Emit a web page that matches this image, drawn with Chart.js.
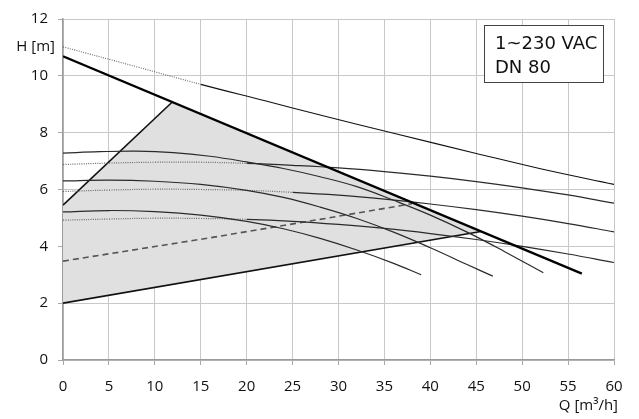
<!DOCTYPE html>
<html><head><meta charset="utf-8">
<script src="https://cdn.jsdelivr.net/npm/chart.js@4/dist/chart.umd.min.js"></script>
<style>html,body{margin:0;padding:0;background:#fff}#wrap{width:639px;height:419px;position:relative}</style>
</head><body><div id="wrap"><canvas id="c" width="639" height="419"></canvas></div>
<script>
// ---- data (Q in m³/h, H in m) ----
const xTicks = [0, 5, 10, 15, 20, 25, 30, 35, 40, 45, 50, 55, 60];
const yTicks = [0, 2, 4, 6, 8, 10, 12];

const topQ = [0, 8, 15, 22, 28, 36, 45, 52, 60];
const topH = [11.02, 10.32, 9.7, 9.12, 8.62, 7.98, 7.27, 6.73, 6.18];

const maxQ = [0, 56.5];
const maxH = [10.69, 3.04];

const curveAQ = [0, 4, 8, 12, 16, 20, 24, 28, 32, 36, 40, 44, 48, 52.3];
const curveAH = [7.28, 7.33, 7.35, 7.3, 7.17, 6.97, 6.74, 6.45, 6.1, 5.62, 5.1, 4.5, 3.83, 3.07];

const curveCQ = [0, 5, 10, 15, 20, 24, 28, 32, 36, 40, 44, 46.8];
const curveCH = [6.30, 6.33, 6.29, 6.18, 5.97, 5.72, 5.38, 4.98, 4.5, 3.95, 3.36, 2.95];

const curveFQ = [0, 5, 10, 15, 20, 24, 28, 32, 36, 39];
const curveFH = [5.21, 5.26, 5.22, 5.1, 4.88, 4.62, 4.28, 3.87, 3.4, 3.0];

const flatQ = [0, 5, 10, 15, 20, 25, 30, 35, 40, 45, 50, 55, 60];
const curveBH = [6.88, 6.93, 6.96, 6.96, 6.92, 6.85, 6.76, 6.63, 6.47, 6.28, 6.06, 5.81, 5.52];
const curveEH = [5.93, 5.98, 6.01, 6.0, 5.97, 5.9, 5.8, 5.66, 5.49, 5.29, 5.06, 4.8, 4.51];
const curveDH = [4.92, 4.96, 4.99, 4.98, 4.95, 4.88, 4.77, 4.63, 4.45, 4.24, 4.0, 3.73, 3.43];

const dashQ = [0, 16, 28, 38];
const dashH = [3.48, 4.3, 4.95, 5.5];

const leftQ = [0, 11.9];
const leftH = [5.45, 9.08];

const lowQ = [0, 45.5];
const lowH = [2.0, 4.52];

const areaQ = [0, 45.5, 11.9, 0];
const areaH = [2.0, 4.52, 9.08, 5.45];

const boxLines = ['1~230 VAC', 'DN 80'];
const yTitle = 'H [m]';
const xTitle = 'Q [m³/h]';

// ---- build ----
const pts = (q, h) => q.map((v, i) => ({x: v, y: h[i]}));
const FONT = '"Open Sans", "DejaVu Sans", sans-serif';

function curve(q, h, opts) {
  const ds = Object.assign({
    data: pts(q, h), borderColor: '#2a2a2a', borderWidth: 1.2, pointRadius: 0,
    fill: false, tension: 0.4, order: 1
  }, opts || {});
  if (ds.dotUntil !== undefined) {
    const t = ds.dotUntil;
    ds.segment = {
      borderDash: ctx => ctx.p1.parsed.x <= t ? [1, 1.3] : undefined,
      borderColor: ctx => ctx.p1.parsed.x <= t ? '#666' : undefined
    };
  }
  return ds;
}

const datasets = [
  {data: pts(areaQ, areaH), borderWidth: 0, borderColor: 'rgba(0,0,0,0)', backgroundColor: '#e0e0e0',
   fill: 'shape', pointRadius: 0, tension: 0, order: 20},
  curve(topQ, topH, {dotUntil: 15, borderColor: '#111', borderWidth: 1.1}),
  curve(curveAQ, curveAH),
  curve(flatQ, curveBH, {dotUntil: 20}),
  curve(curveCQ, curveCH),
  curve(flatQ, curveEH, {dotUntil: 25}),
  curve(curveFQ, curveFH),
  curve(flatQ, curveDH, {dotUntil: 20}),
  curve(dashQ, dashH, {borderDash: [6, 4], borderColor: '#555', borderWidth: 1.6, tension: 0}),
  curve(leftQ, leftH, {borderColor: '#111', borderWidth: 1.6, tension: 0}),
  curve(lowQ, lowH, {borderColor: '#111', borderWidth: 1.6, tension: 0}),
  curve(maxQ, maxH, {borderColor: '#000', borderWidth: 2.2, tension: 0, order: 0})
];

const textPlugin = {
  id: 'texts',
  afterDraw(chart) {
    const c = chart.ctx;
    c.save();
    c.fillStyle = '#111';
    c.font = '15px ' + FONT;
    c.textBaseline = 'middle';
    c.textAlign = 'right';
    c.fillText(yTitle, 55, 46.5);
    c.fillText(xTitle, 618, 405.5);
    // box
    c.fillStyle = '#fff';
    c.fillRect(484.5, 25.5, 119, 57);
    c.strokeStyle = '#444';
    c.lineWidth = 1;
    c.strokeRect(484.5, 25.5, 119, 57);
    c.fillStyle = '#111';
    c.font = '18px "DejaVu Sans", sans-serif';
    c.textAlign = 'left';
    c.fillText(boxLines[0], 495, 44.5);
    c.fillText(boxLines[1], 495, 68.5);
    c.restore();
  }
};

new Chart(document.getElementById('c'), {
  type: 'line',
  data: {datasets},
  plugins: [textPlugin],
  options: {
    responsive: false, animation: false, devicePixelRatio: 1,
    layout: {padding: {left: 0, top: 16, right: 25, bottom: 0}},
    plugins: {legend: {display: false}, tooltip: {enabled: false}},
    scales: {
      x: {
        type: 'linear', min: 0, max: 60,
        afterBuildTicks: s => { s.ticks = xTicks.map(v => ({value: v})); },
        afterFit: s => { s.height = 59; },
        grid: {color: '#c8c8c8', lineWidth: 1, tickLength: 5, tickColor: '#a8a8a8'},
        border: {color: '#9a9a9a', width: 1.5},
        ticks: {color: '#111', font: {family: FONT, size: 15}, padding: 13, maxRotation: 0}
      },
      y: {
        type: 'linear', min: 0, max: 12,
        afterBuildTicks: s => { s.ticks = yTicks.map(v => ({value: v})); },
        afterFit: s => { s.width = 63; },
        grid: {color: '#c8c8c8', lineWidth: 1, tickLength: 5, tickColor: '#a8a8a8'},
        border: {color: '#9a9a9a', width: 1.5},
        ticks: {color: '#111', font: {family: FONT, size: 15}, padding: 10}
      }
    }
  }
});
</script></body></html>
